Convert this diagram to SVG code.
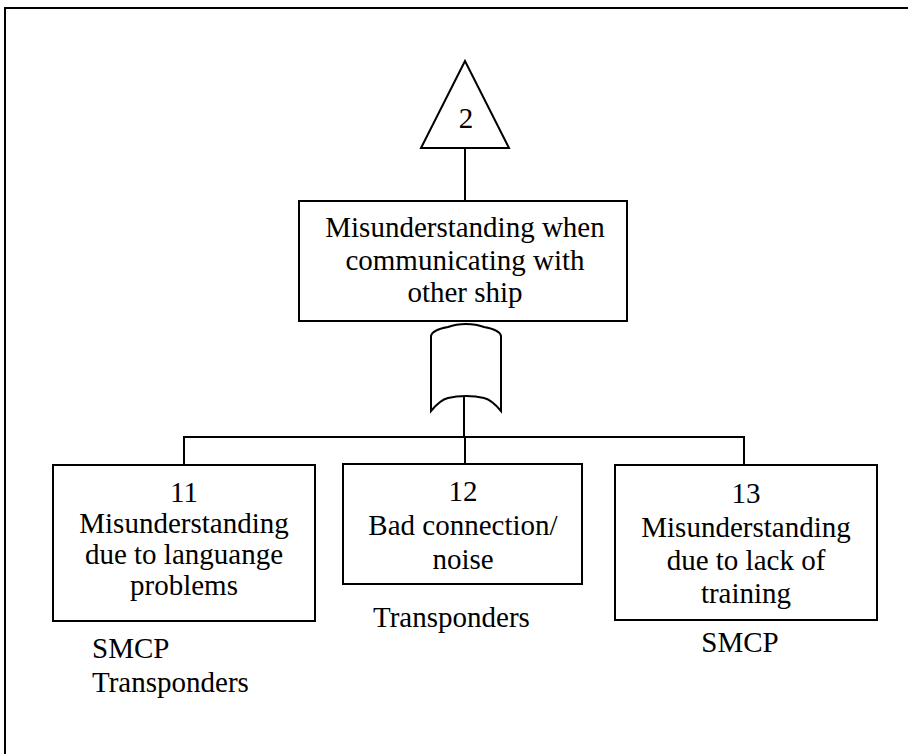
<svg xmlns="http://www.w3.org/2000/svg" width="908" height="754" viewBox="0 0 908 754">
  <style>
    .frame { fill: none; stroke: #000; stroke-width: 2; }
    .box { fill: #fff; stroke: #000; stroke-width: 2; }
    .wire { fill: none; stroke: #000; stroke-width: 2; }
    text { font-family: "Liberation Serif", "Times New Roman", serif; font-size: 29px; fill: #000; }
    .c { text-anchor: middle; }
  </style>
  <rect width="908" height="754" fill="#fff"/>
  <!-- page border, running off the right and bottom edges -->
  <path class="frame" d="M5,760 L5,8 L915,8"/>

  <g id="connectors">
    <line class="wire" x1="465" y1="148" x2="465" y2="201"/>
    <line class="wire" x1="464" y1="396" x2="464" y2="437"/>
    <line class="wire" x1="183" y1="437" x2="745" y2="437"/>
    <line class="wire" x1="184" y1="436" x2="184" y2="465"/>
    <line class="wire" x1="465" y1="436" x2="465" y2="465"/>
    <line class="wire" x1="744" y1="436" x2="744" y2="465"/>
  </g>

  <g id="transfer-2">
    <polygon class="box" points="465,61 421,148 509,148"/>
    <text class="c" x="466" y="128">2</text>
  </g>

  <g id="top-event">
    <rect class="box" x="299" y="201" width="328" height="120"/>
    <text class="c" x="465" y="237">Misunderstanding when</text>
    <text class="c" x="465" y="270">communicating with</text>
    <text class="c" x="465" y="302">other ship</text>
  </g>

  <g id="or-gate">
    <path class="box" d="M431,411 L431,336 Q432,330 448,327 Q456,324 466,324 Q476,324 484,327 Q500,330 501,336 L501,411 Q492,400 484,398 Q476,396 466,396 Q456,396 448,398 Q440,400 431,411 Z"/>
  </g>

  <g id="event-11">
    <rect class="box" x="53" y="465" width="262" height="156"/>
    <text class="c" x="184" y="502">11</text>
    <text class="c" x="184" y="533">Misunderstanding</text>
    <text class="c" x="184" y="564">due to languange</text>
    <text class="c" x="184" y="595">problems</text>
  </g>

  <g id="event-12">
    <rect class="box" x="343" y="464" width="239" height="120"/>
    <text class="c" x="463" y="501">12</text>
    <text class="c" x="463" y="535">Bad connection/</text>
    <text class="c" x="463" y="569">noise</text>
  </g>

  <g id="event-13">
    <rect class="box" x="615" y="465" width="262" height="155"/>
    <text class="c" x="746" y="503">13</text>
    <text class="c" x="746" y="537">Misunderstanding</text>
    <text class="c" x="746" y="570">due to lack of</text>
    <text class="c" x="746" y="603">training</text>
  </g>

  <g id="barriers">
    <text x="92" y="658">SMCP</text>
    <text x="92" y="692">Transponders</text>
    <text x="373" y="627">Transponders</text>
    <text class="c" x="740" y="652">SMCP</text>
  </g>
</svg>
